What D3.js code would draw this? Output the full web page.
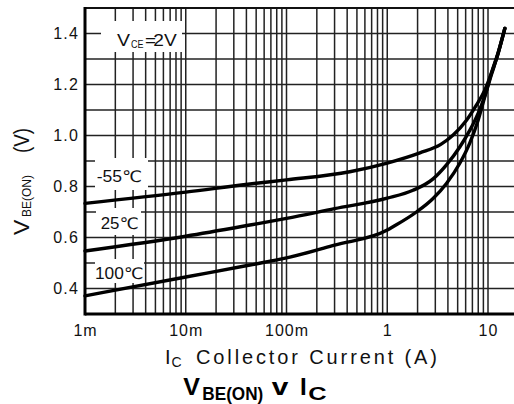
<!DOCTYPE html>
<html>
<head>
<meta charset="utf-8">
<script src="https://cdn.jsdelivr.net/npm/d3@7"></script>
<style>
  html, body { margin: 0; padding: 0; background: #fff; }
  svg { display: block; font-family: "Liberation Sans", Arial, "DejaVu Sans", sans-serif; }
</style>
</head>
<body>
<svg id="chart" width="514" height="404"></svg>
<script>
// ---- data ----
const xTickValues = [0.001, 0.01, 0.1, 1, 10];
const xTickLabels = ["1m", "10m", "100m", "1", "10"];
const yTickValues = [0.4, 0.6, 0.8, 1.0, 1.2, 1.4];
const yGridValues = [0.4, 0.5, 0.6, 0.7, 0.8, 0.9, 1.0, 1.1, 1.2, 1.3, 1.4];

const seriesNames = ["-55℃", "25℃", "100℃"];
const icM55 = [0.001, 0.01, 0.0434, 0.1, 0.425, 1, 2.11, 3.4, 4.51, 6.12, 7.69, 9.29, 10.8, 12.6, 14.7];
const vbeM55 = [0.734, 0.778, 0.81, 0.826, 0.858, 0.892, 0.932, 0.965, 1.002, 1.06, 1.12, 1.178, 1.244, 1.322, 1.42];
const ic25 = [0.001, 0.01, 0.0434, 0.1, 0.3, 1, 1.8, 2.85, 3.87, 5.25, 6.59, 7.98, 9.29, 10.8, 12.6, 14.7];
const vbe25 = [0.547, 0.605, 0.649, 0.675, 0.713, 0.754, 0.785, 0.83, 0.885, 0.955, 1.02, 1.087, 1.155, 1.238, 1.322, 1.42];
const ic100 = [0.001, 0.01, 0.0434, 0.1, 0.3, 1, 1.14, 1.95, 2.85, 3.87, 5.25, 6.59, 7.98, 9.29, 10.8, 12.6, 14.7];
const vbe100 = [0.371, 0.445, 0.492, 0.52, 0.57, 0.629, 0.642, 0.70, 0.753, 0.812, 0.891, 0.97, 1.06, 1.152, 1.244, 1.325, 1.42];

// ---- layout ----
const svg = d3.select("#chart");
const L = 85, R = 514, T = 8, B = 314;
const x = d3.scaleLog().domain([0.001, 10]).range([L, 488]);
const y = d3.scaleLinear().domain([0.3, 1.5]).range([B, T]);
const xMax = x.invert(R);

const gridColor = "#222";
const grid = svg.append("g");

// vertical log grid
const vLines = [];
for (let d = 0.001; d <= 10.0001; d *= 10) {
  for (let m = 1; m <= 9; m++) {
    const v = d * m;
    if (v <= xMax) vLines.push(v);
  }
}
grid.selectAll("line.v").data(vLines).enter().append("line")
  .attr("x1", d => x(d)).attr("x2", d => x(d))
  .attr("y1", T).attr("y2", B)
  .attr("stroke", gridColor).attr("stroke-width", 1.5);

// horizontal grid
grid.selectAll("line.h").data(yGridValues).enter().append("line")
  .attr("x1", L).attr("x2", R)
  .attr("y1", d => y(d)).attr("y2", d => y(d))
  .attr("stroke", gridColor).attr("stroke-width", 1.5);

// frame
svg.append("line").attr("x1", L).attr("x2", R).attr("y1", T).attr("y2", T)
  .attr("stroke", "#111").attr("stroke-width", 2.2);
svg.append("line").attr("x1", L).attr("x2", R).attr("y1", B).attr("y2", B)
  .attr("stroke", "#000").attr("stroke-width", 3);
svg.append("line").attr("x1", L).attr("x2", L).attr("y1", T - 1).attr("y2", B + 1.5)
  .attr("stroke", "#000").attr("stroke-width", 3);

// label boxes (white, hiding grid)
const boxes = [
  [101, 21, 81, 31],
  [95, 158, 53, 32],
  [96, 208, 45, 27],
  [95, 259, 49, 24]
];
svg.selectAll("rect.box").data(boxes).enter().append("rect")
  .attr("x", d => d[0]).attr("y", d => d[1]).attr("width", d => d[2]).attr("height", d => d[3])
  .attr("fill", "#fff");

// V_CE = 2V label
const vce = svg.append("g").attr("fill", "#111");
vce.append("text").attr("x", 117).attr("y", 46).attr("font-size", 16)
  .attr("textLength", 13).attr("lengthAdjust", "spacingAndGlyphs").text("V");
vce.append("text").attr("x", 131).attr("y", 47.5).attr("font-size", 11)
  .attr("textLength", 12.5).attr("lengthAdjust", "spacingAndGlyphs").text("CE");
vce.append("text").attr("x", 145).attr("y", 46).attr("font-size", 16)
  .attr("textLength", 11).attr("lengthAdjust", "spacingAndGlyphs").text("=");
vce.append("text").attr("x", 153.3).attr("y", 46).attr("font-size", 16)
  .attr("textLength", 23.4).attr("lengthAdjust", "spacingAndGlyphs").text("2V");

// temperature labels
const tempPos = [[96.7, 182, 45], [100.7, 228.5, 37.6], [95, 278.5, 48.3]];
svg.selectAll("text.temp").data(seriesNames).enter().append("text")
  .attr("x", (d, i) => tempPos[i][0]).attr("y", (d, i) => tempPos[i][1])
  .attr("textLength", (d, i) => tempPos[i][2]).attr("lengthAdjust", "spacingAndGlyphs")
  .attr("font-size", 16).attr("fill", "#111").text(d => d);

// curves
const series = [
  icM55.map((c, i) => [c, vbeM55[i]]),
  ic25.map((c, i) => [c, vbe25[i]]),
  ic100.map((c, i) => [c, vbe100[i]])
];
const line = d3.line().x(d => x(d[0])).y(d => y(d[1])).curve(d3.curveMonotoneX);
svg.selectAll("path.curve").data(series).enter().append("path")
  .attr("d", line).attr("fill", "none").attr("stroke", "#000")
  .attr("stroke-width", 3.4).attr("stroke-linecap", "round").attr("stroke-linejoin", "round");

// axes (labels only)
const xAxis = d3.axisBottom(x).tickValues(xTickValues)
  .tickFormat((d, i) => xTickLabels[i]).tickSize(0).tickPadding(11);
const gx = svg.append("g").attr("transform", `translate(0,${B})`).call(xAxis);
gx.select(".domain").remove();
gx.selectAll("text").attr("font-size", 16).attr("fill", "#111")
  .attr("font-family", "Liberation Sans, Arial, sans-serif").style("letter-spacing", "1px");

const yAxis = d3.axisLeft(y).tickValues(yTickValues)
  .tickFormat(d3.format(".1f")).tickSize(0).tickPadding(6);
const gy = svg.append("g").attr("transform", `translate(${L},0)`).call(yAxis);
gy.select(".domain").remove();
gy.selectAll("text").attr("font-size", 16).attr("fill", "#111")
  .attr("font-family", "Liberation Sans, Arial, sans-serif").style("letter-spacing", "1.2px");

// y axis title (rotated)
const yt = svg.append("g").attr("transform", "translate(28.5,235) rotate(-90)").attr("fill", "#111");
yt.append("text").attr("x", 0).attr("y", 0).attr("font-size", 22)
  .attr("textLength", 15.3).attr("lengthAdjust", "spacingAndGlyphs").text("V");
yt.append("text").attr("x", 18).attr("y", 2).attr("font-size", 13)
  .attr("textLength", 42).attr("lengthAdjust", "spacingAndGlyphs").text("BE(ON)");
yt.append("text").attr("x", 82).attr("y", 0).attr("font-size", 22)
  .attr("textLength", 25).attr("lengthAdjust", "spacingAndGlyphs").text("(V)");

// x axis title
const xt = svg.append("g").attr("fill", "#111");
xt.append("text").attr("x", 165).attr("y", 364).attr("font-size", 20).text("I");
xt.append("text").attr("x", 171.5).attr("y", 367).attr("font-size", 14).text("C");
xt.append("text").attr("x", 196).attr("y", 364).attr("font-size", 20)
  .attr("textLength", 241).attr("lengthAdjust", "spacing").text("Collector Current (A)");

// chart title
const tt = svg.append("g").attr("fill", "#000").attr("font-weight", "bold");
tt.append("text").attr("x", 183.3).attr("y", 394.5).attr("font-size", 24)
  .attr("textLength", 16.7).attr("lengthAdjust", "spacingAndGlyphs").text("V");
tt.append("text").attr("x", 202.3).attr("y", 399.5).attr("font-size", 18)
  .attr("textLength", 61).attr("lengthAdjust", "spacingAndGlyphs").text("BE(ON)");
tt.append("text").attr("x", 271.7).attr("y", 394.5).attr("font-size", 24)
  .attr("textLength", 16.6).attr("lengthAdjust", "spacingAndGlyphs").text("v");
tt.append("text").attr("x", 300).attr("y", 394.5).attr("font-size", 24)
  .attr("textLength", 6.7).attr("lengthAdjust", "spacingAndGlyphs").text("I");
tt.append("text").attr("x", 308.3).attr("y", 399.5).attr("font-size", 18)
  .attr("textLength", 18.4).attr("lengthAdjust", "spacingAndGlyphs").text("C");
</script>
</body>
</html>
